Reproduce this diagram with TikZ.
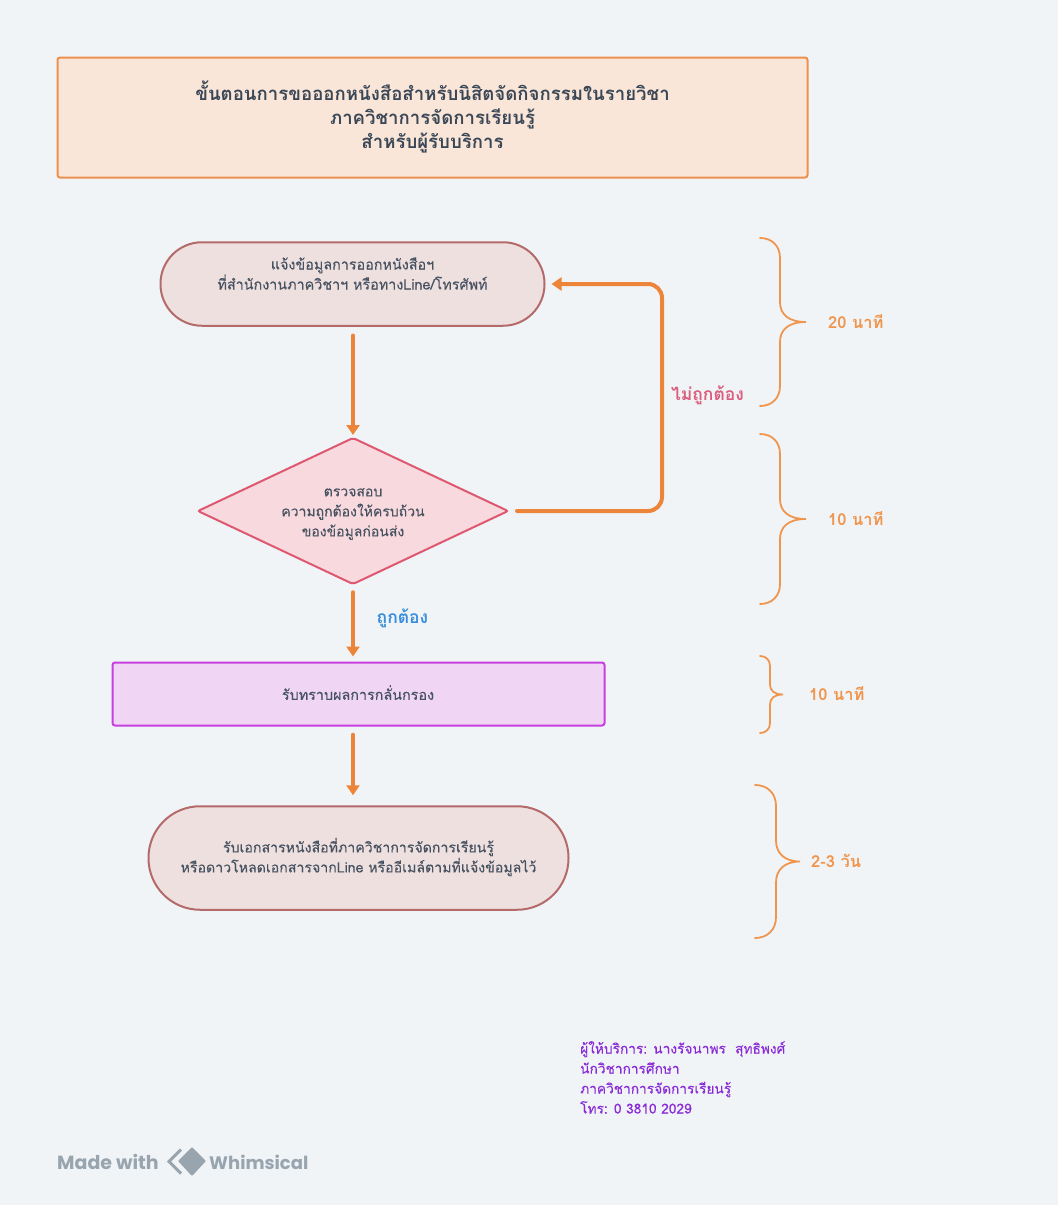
\documentclass[tikz,border=0pt]{standalone}
\usepackage{fontspec}
\usetikzlibrary{arrows.meta,shapes.geometric}
\newfontfamily\thaifont[Script=Thai]{Loma}
\newfontfamily\thaimed[Script=Thai,FakeBold=0.25]{Loma}
\newfontfamily\logofont{Poppins}
\definecolor{bgc}{HTML}{F0F4F7}
\definecolor{orangec}{HTML}{EC853A}
\definecolor{orangel}{HTML}{F0954D}
\definecolor{titlef}{HTML}{FAE6D8}
\definecolor{pillf}{HTML}{EFE0E0}
\definecolor{pills}{HTML}{B56A6A}
\definecolor{diaf}{HTML}{F7D9DE}
\definecolor{dias}{HTML}{DE5870}
\definecolor{purf}{HTML}{F0D5F5}
\definecolor{purs}{HTML}{C83FE0}
\definecolor{inkc}{HTML}{3A4757}
\definecolor{bodyc}{HTML}{485362}
\definecolor{noc}{HTML}{DB5F7E}
\definecolor{yesc}{HTML}{3A8FDC}
\definecolor{footc}{HTML}{8A2BD8}
\definecolor{logoc}{HTML}{98A4AE}
\newcommand{\bracepath}[5]{% x-start, x-mid, x-tip, y-top, y-bottom
  \pgfmathsetmacro{\ymid}{(#4+#5)/2}
  \pgfmathsetmacro{\rr}{(#2-#1)}
  \draw[bracel] (#1,#4) .. controls ({#1+0.6*\rr},#4) and (#2,{#4+0.4*\rr}) .. (#2,{#4+\rr})
    -- (#2,{\ymid-\rr}) .. controls (#2,{\ymid-0.4*\rr}) and ({#2+0.4*\rr},\ymid) .. (#3,\ymid)
    .. controls ({#2+0.4*\rr},\ymid) and (#2,{\ymid+0.4*\rr}) .. (#2,{\ymid+\rr})
    -- (#2,{#5-\rr}) .. controls (#2,{#5-0.4*\rr}) and ({#1+0.6*\rr},#5) .. (#1,#5);
}
\tikzset{
  x=1pt,y=-1pt,
  shapebase/.style={inner sep=0pt,outer sep=0pt,line width=2pt},
  titlebox/.style={shapebase,rectangle,draw=orangec!90!white,fill=titlef,rounded corners=2.5pt,minimum width=750pt,minimum height=120pt},
  pillbox/.style={shapebase,rectangle,draw=pills,fill=pillf},
  diabox/.style={shapebase,diamond,draw=dias,fill=diaf,rounded corners=2pt,minimum width=310pt,minimum height=146pt},
  purbox/.style={shapebase,rectangle,draw=purs,fill=purf,rounded corners=2.5pt,minimum width=492pt,minimum height=63pt},
  flow/.style={draw=orangec,line width=3.5pt,-{Triangle[width=13pt,length=10pt]},line cap=round},
  bracel/.style={draw=orangel,line width=1.8pt,line cap=round,fill=none},
  bodytxt/.style={text=bodyc,align=center,font=\thaimed\fontsize{14.35}{20}\selectfont,inner sep=0pt},
  titletxt/.style={text=inkc,align=center,font=\thaifont\bfseries\fontsize{18.6}{24}\selectfont,inner sep=0pt},
  timetxt/.style={text=orangel,anchor=west,font=\thaifont\bfseries\fontsize{16.5}{20}\selectfont,inner sep=0pt},
  foottxt/.style={text=footc,align=left,anchor=north west,font=\thaimed\fontsize{13.7}{20}\selectfont,inner sep=0pt},
  logotxt/.style={text=logoc,anchor=west,font=\logofont\bfseries\fontsize{19}{22}\selectfont,inner sep=0pt},
  edgelabel/.style={font=\thaifont\bfseries\fontsize{17.5}{20}\selectfont,inner sep=0pt},
}
\begin{document}
\begin{tikzpicture}
\useasboundingbox (0,0) rectangle (1058,1205);
\fill[bgc] (0,0) rectangle (1058,1205);

\node[titlebox] (title) at (432.5,117.5) {};
\node[titletxt] (titlet) at (432.5,116.5) {ขั้นตอนการขอออกหนังสือสำหรับนิสิตจัดกิจกรรมในรายวิชา\\ภาควิชาการจัดการเรียนรู้\\สำหรับผู้รับบริการ};

\node[pillbox,rounded corners=41.5pt,minimum width=384pt,minimum height=83.5pt] (n1) at (352.5,284) {};
\node[bodytxt] (n1t) at (352.5,273.5) {แจ้งข้อมูลการออกหนังสือฯ\\ที่สำนักงานภาควิชาฯ หรือทางLine/โทรศัพท์};

\node[diabox] (d) at (353,511) {};
\node[bodytxt,font=\thaimed\fontsize{14}{20}\selectfont] (dt) at (353,514) {ตรวจสอบ\\ความถูกต้องให้ครบถ้วน\\ของข้อมูลก่อนส่ง};

\node[purbox] (p) at (358.5,694) {};
\node[bodytxt] (pt) at (358,692.5) {รับทราบผลการกลั่นกรอง};

\node[pillbox,rounded corners=51.5pt,minimum width=420pt,minimum height=103.5pt] (n3) at (358.5,858) {};
\node[bodytxt,font=\thaimed\fontsize{14.15}{20}\selectfont] (n3t) at (358.5,857) {รับเอกสารหนังสือที่ภาควิชาการจัดการเรียนรู้\\หรือดาวโหลดเอกสารจากLine หรืออีเมล์ตามที่แจ้งข้อมูลไว้};

\coordinate (loopx) at (662,400);
\draw[flow,shorten <=9.5pt,shorten >=3pt] (d.north |- n1.south) -- (d.north);
\draw[flow,shorten <=8pt,shorten >=6pt] (d.south) -- (d.south |- p.north);
\draw[flow,shorten <=9pt,shorten >=11pt] (d.south |- p.south) -- (d.south |- n3.north);
\draw[flow,line width=4pt,rounded corners=14pt,shorten <=9pt,shorten >=7pt] (d.east) -- (loopx |- d.east) -- (loopx |- n1.east) -- (n1.east);

\node[edgelabel,text=noc] (nol) at (707.5,395.5) {ไม่ถูกต้อง};
\node[edgelabel,text=yesc] (yesl) at (402.5,618) {ถูกต้อง};

\bracepath{760}{780}{806}{238}{406}
\bracepath{760}{780}{806}{434}{604}
\bracepath{760}{770}{783}{656}{733}
\bracepath{755}{776}{800}{785}{938}

\node[timetxt] (t1) at (828,322) {20 นาที};
\node[timetxt] (t2) at (828,519) {10 นาที};
\node[timetxt] (t3) at (809,694) {10 นาที};
\node[timetxt] (t4) at (811,861) {2-3 วัน};

\node[foottxt] (foot) at (580,1041) {ผู้ให้บริการ: นางรัจนาพร\ \ สุทธิพงศ์\\นักวิชาการศึกษา\\ภาควิชาการจัดการเรียนรู้\\โทร: 0 3810 2029};

\node[logotxt] (made) at (57,1162) {Made with};
\node[logotxt,font=\logofont\bfseries\fontsize{18}{22}\selectfont] (whim) at (209,1162) {Whimsical};
\fill[logoc,rounded corners=1pt] (192,1147) -- (206,1161) -- (192,1176) -- (178,1161) -- cycle;
\draw[logoc,line width=3pt] (181,1149.5) -- (169,1161.5) -- (181,1173.5);
\end{tikzpicture}
\end{document}
